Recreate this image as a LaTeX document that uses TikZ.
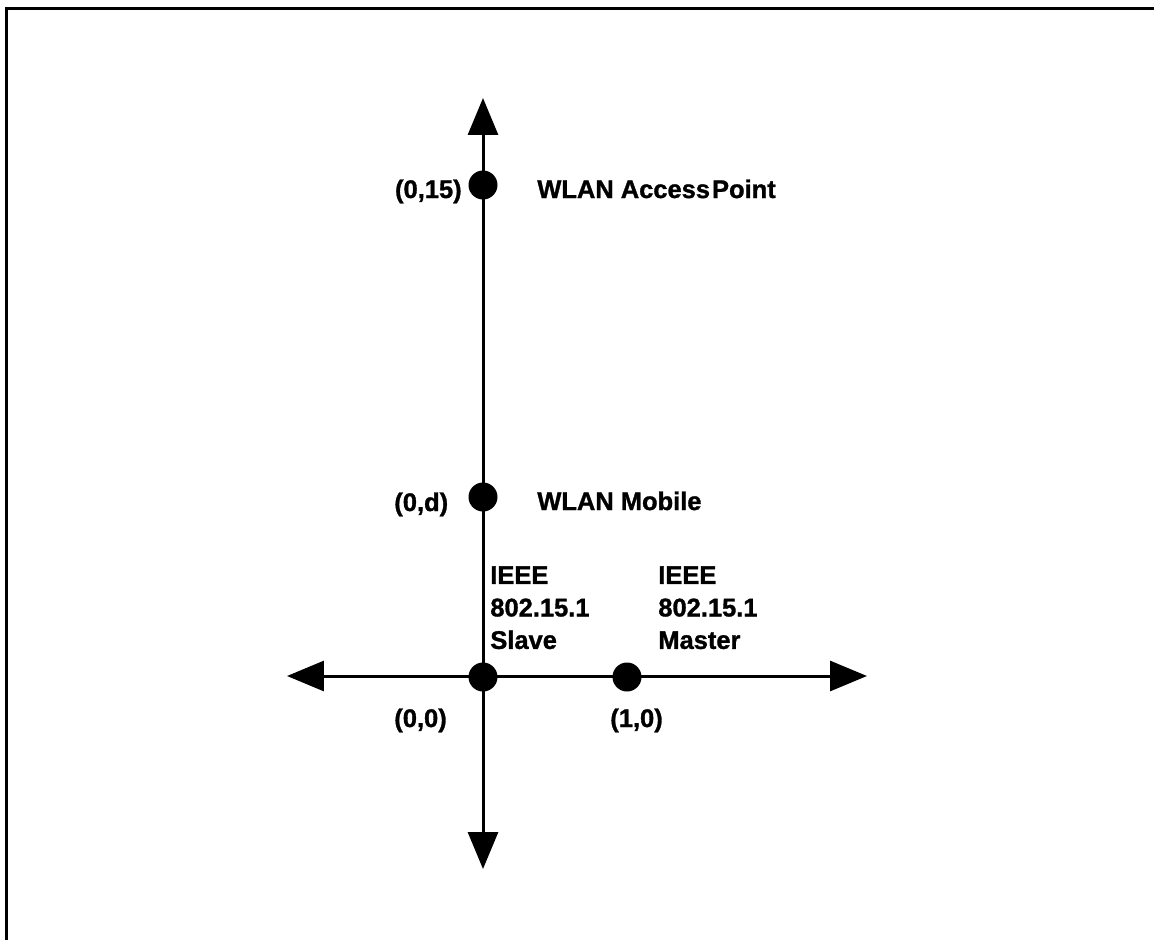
\documentclass[tikz,border=0pt]{standalone}
\usepackage{fontspec}
\setmainfont{Liberation Sans}[BoldFeatures={FakeBold=1.2}]
\usetikzlibrary{arrows.meta}
\tikzset{
  axis/.style={{Triangle[length=0.74cm,width=0.6cm]}-{Triangle[length=0.74cm,width=0.6cm]},
    line width=0.06cm},
  dot/.style={circle, fill=black, inner sep=0pt, minimum size=0.58cm},
  lbl/.style={font=\fontsize{14.5pt}{18.5pt}\selectfont\bfseries, inner sep=0pt},
  frame/.style={line width=0.06cm, miter limit=10},
}

\begin{document}
\begin{tikzpicture}[x=0.02cm, y=-0.02cm]
  \useasboundingbox (0,0) rectangle (1154,940);

  % Frame (top and left edge only)
  \coordinate (fbl) at (6.5,940);
  \coordinate (ftr) at (1154,8.5);
  \draw[frame] (fbl) |- (ftr);

  % Axes
  \coordinate (north) at (483,98);
  \coordinate (south) at (483,869);
  \coordinate (west) at (287,676);
  \coordinate (east) at (867,676);
  \draw[axis] (south) -- (north);
  \draw[axis] (west) -- (east);

  % Stations
  \node[dot] (ap) at (483,185) {};
  \node[dot] (mobile) at (483,497) {};
  \node[dot] (slave) at (483,677) {};
  \node[dot] (master) at (627,677) {};

  % Labels
  \node[lbl, anchor=base east] (apxy) at (462,198) {(0,15)};
  \node[lbl, anchor=base west] (aptxt) at (537,198) {WLAN Access\kern0.08em Point};
  \node[lbl, anchor=base west] (mobxy) at (394,511) {(0,d)};
  \node[lbl, anchor=base west] (mobtxt) at (537,510) {WLAN Mobile};
  \node[lbl, anchor=north west, align=left] (slavetxt) at (490,566)
    {IEEE\\802.15.1\\Slave};
  \node[lbl, anchor=north west, align=left] (mastertxt) at (658,566)
    {IEEE\\802.15.1\\Master};
  \node[lbl, anchor=base west] (slavexy) at (394,727) {(0,0)};
  \node[lbl, anchor=base west] (masterxy) at (610,727) {(1,0)};
\end{tikzpicture}
\end{document}
